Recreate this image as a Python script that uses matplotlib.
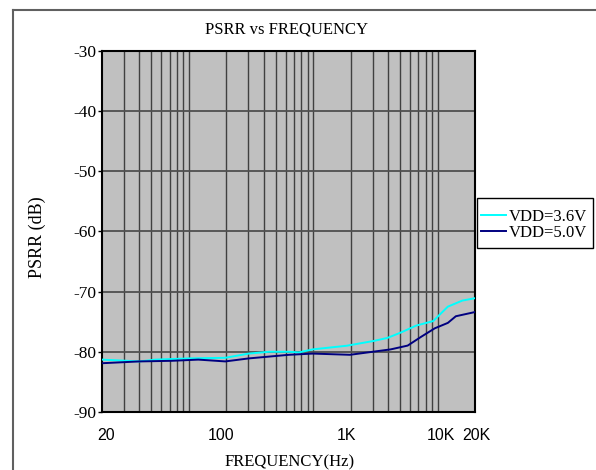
import matplotlib
matplotlib.use("Agg")
import matplotlib.pyplot as plt
from matplotlib.lines import Line2D
from matplotlib.patches import Rectangle
from matplotlib.transforms import blended_transform_factory

# ---- data ----
freq_36 = [20, 40, 54, 100, 196, 303, 440, 639, 770, 990, 1854, 3063, 3945,
           5070, 6730, 9220, 12100, 15800, 20000]
psrr_36 = [-81.3, -81.6, -81.3, -81.1, -81.0, -80.3, -80.0, -80.0, -80.1, -79.6,
           -79.0, -78.2, -77.7, -76.8, -75.65, -74.9, -72.5, -71.5, -71.1]

freq_50 = [20, 40, 72.5, 119, 196, 303, 639, 990, 1973, 4200, 5750, 7390, 9500,
           12100, 14020, 20000]
psrr_50 = [-81.9, -81.6, -81.5, -81.3, -81.6, -81.1, -80.5, -80.3, -80.5, -79.6,
           -78.97, -77.5, -76.1, -75.2, -74.1, -73.4]

labels = ["VDD=3.6V", "VDD=5.0V"]
yticks = [-30, -40, -50, -60, -70, -80, -90]
ytick_labels = ["-30", "-40", "-50", "-60", "-70", "-80", "-90"]
xtick_labels = ["20", "100", "1K", "10K", "20K"]
xtick_pos = [21.5, 183, 1865, 10550, 20700]
grid_freqs = [30, 40, 50, 60, 70, 80, 90, 100, 200, 300, 400, 500, 600, 700, 800,
              900, 1000, 2000, 3000, 4000, 5000, 6000, 7000, 8000, 9000, 10000]

SERIF = ["Liberation Serif", "DejaVu Serif"]
SANS = ["Liberation Sans", "DejaVu Sans"]

fig = plt.figure(figsize=(5.96, 4.70), dpi=100)
W, H = 596, 470
ax = fig.add_axes([102 / W, 1 - 412 / H, (475 - 102) / W, (412 - 50.7) / H])
ax.set_facecolor("#c0c0c0")

ax.set_xscale("log")
ax.set_xlim(20, 20000)
ax.set_ylim(-90, -30)

# vertical grid via minor ticks
ax.set_xticks(grid_freqs, minor=True)
ax.set_xticks([])
ax.xaxis.set_tick_params(which="both", length=0, labelbottom=False)
ax.grid(True, which="minor", axis="x", color="#404040", lw=1.0)

ax.set_yticks(yticks)
ax.set_yticklabels(ytick_labels, family=SERIF, fontsize=12.5)
ax.tick_params(axis="y", direction="out", length=3, width=1, pad=1, colors="black")
ax.grid(True, which="major", axis="y", color="#505050", lw=1.3)
ax.set_axisbelow(True)

for s in ax.spines.values():
    s.set_linewidth(1.5)
    s.set_color("black")

ax.plot(freq_36, psrr_36, color="#00ffff", lw=1.4, label=labels[0], zorder=3)
ax.plot(freq_50, psrr_50, color="#000080", lw=1.4, label=labels[1], zorder=3)

# x tick labels
trans = blended_transform_factory(ax.transData, ax.transAxes)
for xp, lab in zip(xtick_pos, xtick_labels):
    ax.text(xp, -23 / (412 - 50.7), lab, transform=trans, ha="center", va="center",
            family=SANS, fontsize=11.5, clip_on=False)

fig.text(287 / W, 1 - 29 / H, "PSRR vs FREQUENCY", ha="center", va="center",
         family=SERIF, fontsize=12)
fig.text(290 / W, 1 - 462 / H, "FREQUENCY(Hz)", ha="center", va="center",
         family=SERIF, fontsize=12)
fig.text(37 / W, 1 - 237 / H, "PSRR (dB)", ha="center", va="center",
         rotation=90, family=SERIF, fontsize=13)

# legend box drawn separately, entries via legend without frame
fig.add_artist(Rectangle((476.7 / W, 1 - 248 / H), (593 - 476.7) / W, 50 / H,
                         transform=fig.transFigure, facecolor="white",
                         edgecolor="black", lw=1.0, zorder=4))
leg = fig.legend(loc="upper left", bbox_to_anchor=(476.7 / W, 1 - 205 / H),
                 frameon=False, prop={"family": SERIF, "size": 12},
                 handlelength=1.5, handletextpad=0.15, labelspacing=0.0,
                 borderpad=0.25, borderaxespad=0)
leg.set_zorder(5)

# outer frame lines (figure border partially visible)
fig.add_artist(Line2D([13 / W, 13 / W], [0, 1 - 10 / H], transform=fig.transFigure,
                      color="#606060", lw=1.5))
fig.add_artist(Line2D([13 / W, 1], [1 - 10 / H, 1 - 10 / H], transform=fig.transFigure,
                      color="#606060", lw=1.5))

fig.savefig("out.png", dpi=100)
